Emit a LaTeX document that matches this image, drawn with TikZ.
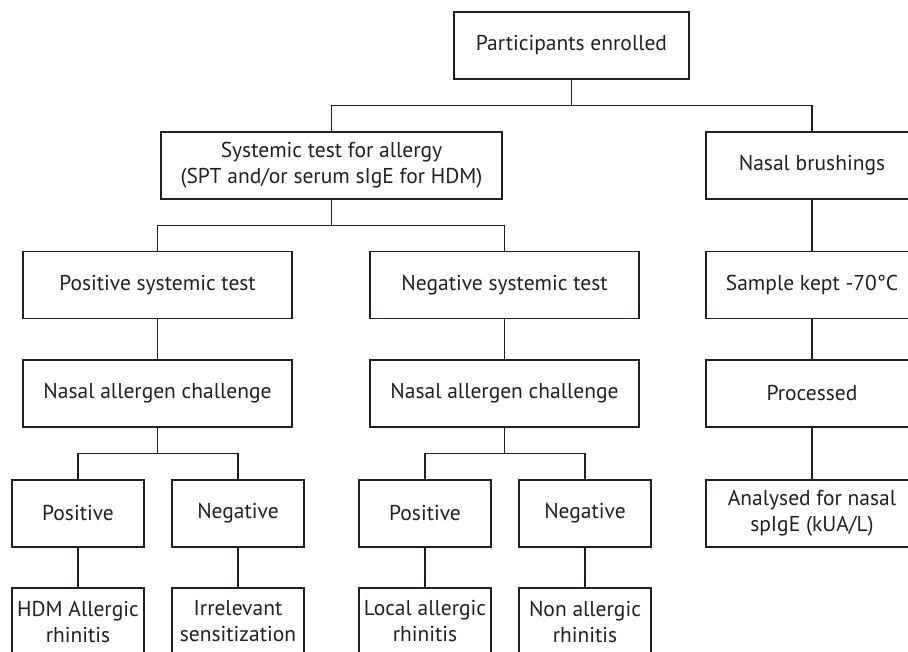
\documentclass[tikz,border=0pt]{standalone}
\usepackage{fontspec}
\setmainfont{PT Sans}
\definecolor{ink}{HTML}{231F20}
\tikzset{box/.style={draw=ink, line width=1.2pt, text=ink, minimum height=67pt, inner sep=0pt, align=center, font=\fontsize{21.5}{26}\selectfont},
  link/.style={draw=ink, line width=1.2pt}}

\begin{document}
\begin{tikzpicture}[x=1pt,y=-1pt]
\useasboundingbox (0,0) rectangle (908,651);
\clip (0,0) rectangle (908,651);

% top
\node[box,minimum width=235pt] (part) at (571.5,45.5) {Participants enrolled};
\node[box,minimum width=341pt] (sys) at (331.5,165.5) {Systemic test for allergy\\(SPT and/or serum sIgE for HDM)};

% systemic branch
\node[box,minimum width=269pt] (possys) at (157.5,285) {Positive systemic test};
\node[box,minimum width=269pt] (negsys) at (504.5,285) {Negative systemic test};
\node[box,minimum width=269pt] (nacl) at (157.5,393.5) {Nasal allergen challenge};
\node[box,minimum width=269pt] (nacm) at (504.5,393.5) {Nasal allergen challenge};
\node[box,minimum width=132pt] (posl) at (78,513.5) {Positive};
\node[box,minimum width=132pt] (negl) at (238,513.5) {Negative};
\node[box,minimum width=132pt] (posm) at (425,513.5) {Positive};
\node[box,minimum width=132pt] (negm) at (585,513.5) {Negative};
\node[box,minimum width=132pt] (hdm) at (78,621.5) {HDM Allergic\\rhinitis};
\node[box,minimum width=132pt] (irr) at (238,621.5) {Irrelevant\\sensitization};
\node[box,minimum width=132pt] (lar) at (425,621.5) {Local allergic\\rhinitis};
\node[box,minimum width=132pt] (nar) at (585,621.5) {Non allergic\\rhinitis};

% nasal brushings
\node[box,minimum width=212pt] (brush) at (812,165.5) {Nasal brushings};
\node[box,minimum width=212pt] (sample) at (812,285) {Sample kept -70°C};
\node[box,minimum width=212pt] (proc) at (812,393.5) {Processed};
\node[box,minimum width=212pt] (anal) at (812,513.5) {Analysed for nasal\\spIgE (kUA/L)};

% branches
\foreach \a/\b/\c in {part/sys/brush, sys/possys/negsys, nacl/posl/negl, nacm/posm/negm} {
\draw[link] (\a.south) -- ++(0,26) -| (\b.north);
\draw[link] (\a.south) -- ++(0,26) -| (\c.north);
}
\foreach \a/\b in {possys/nacl, negsys/nacm, posl/hdm, negl/irr, posm/lar, negm/nar, brush/sample, sample/proc, proc/anal}
\draw[link] (\a) -- (\b);
\end{tikzpicture}
\end{document}
